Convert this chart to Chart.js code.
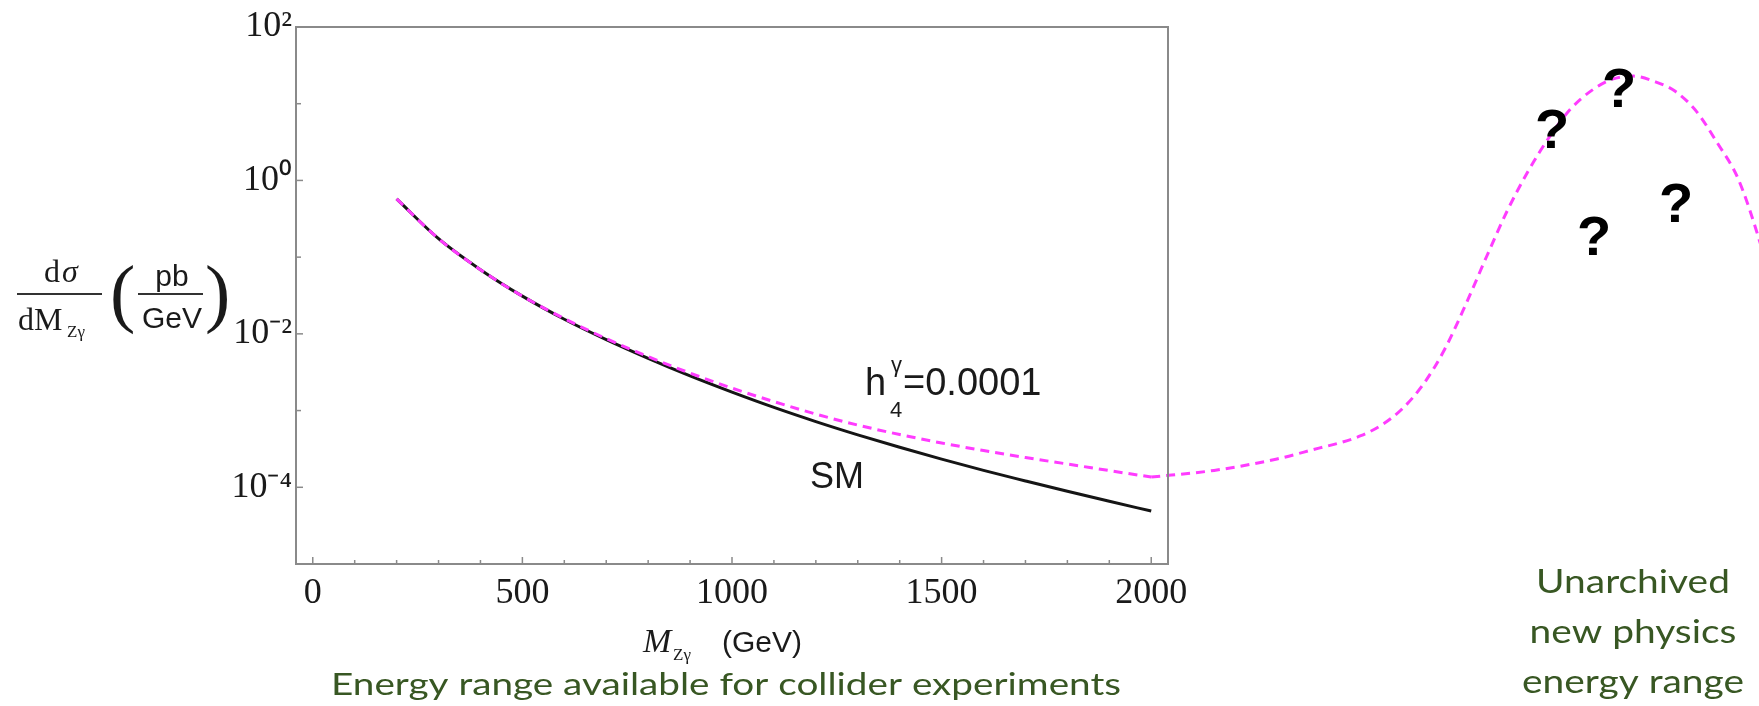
<!DOCTYPE html>
<html>
<head>
<meta charset="utf-8">
<script src="https://cdn.jsdelivr.net/npm/chart.js@4.4.1/dist/chart.umd.min.js"></script>
<style>
  html, body { margin: 0; padding: 0; background: #fff; }
  #wrap { position: relative; width: 1759px; height: 706px; }
</style>
</head>
<body>
<div id="wrap"><canvas id="chart" width="1759" height="706"></canvas></div>
<script>
// Invariant mass (GeV) and differential cross sections (pb/GeV)
const massGeV = [200, 300, 400, 500, 600, 700, 800, 900, 1000, 1100, 1200, 1300, 1400, 1500, 1600, 1700, 1800, 1900, 2000];
const smXsec = [0.575, 0.174, 0.0686, 0.0310, 0.0155, 0.0084, 0.00479, 0.00283, 0.00174, 0.00110, 7.19e-4, 4.83e-4, 3.32e-4, 2.33e-4, 1.66e-4, 1.21e-4, 8.87e-5, 6.58e-5, 4.90e-5];
const h4Xsec = [0.575, 0.174, 0.0686, 0.0310, 0.0158, 0.00866, 0.00505, 0.00308, 0.00196, 0.00131, 9.0e-4, 6.47e-4, 4.87e-4, 3.78e-4, 3.01e-4, 2.44e-4, 2.01e-4, 1.65e-4, 1.36e-4];

// Sketched continuation into the unexplored range (drawn past the frame)
const newPhysMass = [2000, 2150, 2300, 2400, 2450, 2500, 2550, 2600, 2650, 2700, 2750, 2800, 2850, 2900, 2950, 3000, 3050, 3100, 3150, 3200, 3250, 3300, 3350, 3400, 3450, 3490];
const newPhysXsec = [1.36e-4, 1.66e-4, 2.34e-4, 3.24e-4, 3.8e-4, 4.7e-4, 6.5e-4, 1.07e-3, 2.24e-3, 6.3e-3, 0.024, 0.102, 0.41, 1.35, 3.7, 8.5, 14.8, 20.9, 22.9, 19.5, 14.5, 8.0, 3.1, 1.05, 0.17, 0.028];

// Axis ticks
const xTickValues = [0, 100, 200, 300, 400, 500, 600, 700, 800, 900, 1000, 1100, 1200, 1300, 1400, 1500, 1600, 1700, 1800, 1900, 2000];
const xTickLabels = ['0', '500', '1000', '1500', '2000'];
const yTickExponents = [-5, -4, -3, -2, -1, 0, 1, 2];
const yTickLabels = ['10\u207B\u2074', '10\u207B\u00B2', '10\u2070', '10\u00B2'];

const SERIF = "'Liberation Serif', 'Times New Roman', serif";
const SANS = "'Liberation Sans', Arial, sans-serif";
const MAGENTA = '#ff3cff';
const GREEN = '#385723';

function toPoints(xs, ys) {
    return xs.map((x, i) => ({ x: x, y: ys[i] }));
}

// text squeezed/stretched horizontally around its centre
function stretchedText(ctx, text, cx, baseline, sx) {
    ctx.save();
    ctx.translate(cx, baseline);
    ctx.scale(sx, 1);
    ctx.textAlign = 'center';
    ctx.textBaseline = 'alphabetic';
    ctx.fillText(text, 0, 0);
    ctx.restore();
}

// Frame, inward tick marks and annotations
const decorPlugin = {
    id: 'decor',
    afterDraw(chart) {
        const ctx = chart.ctx;
        const area = chart.chartArea;
        const xs = chart.scales.x;
        const ys = chart.scales.y;
        ctx.save();

        // frame
        ctx.strokeStyle = '#8a8a8a';
        ctx.lineWidth = 2;
        ctx.strokeRect(area.left, area.top, area.right - area.left, area.bottom - area.top);

        // x ticks (pointing inward)
        ctx.lineWidth = 1.5;
        xTickValues.forEach(v => {
            const px = xs.getPixelForValue(v);
            const len = v % 500 === 0 ? 7 : 4;
            ctx.beginPath();
            ctx.moveTo(px, area.bottom);
            ctx.lineTo(px, area.bottom - len);
            ctx.stroke();
        });
        // y ticks
        yTickExponents.forEach(e => {
            const py = ys.getPixelForValue(Math.pow(10, e));
            const len = e % 2 === 0 ? 7 : 5;
            ctx.beginPath();
            ctx.moveTo(area.left, py);
            ctx.lineTo(area.left + len, py);
            ctx.stroke();
        });

        ctx.fillStyle = '#1a1a1a';
        ctx.strokeStyle = '#333';
        ctx.textBaseline = 'alphabetic';

        // y axis title: dσ/dM_Zγ (pb/GeV)
        ctx.textAlign = 'center';
        ctx.font = '32px ' + SERIF;
        ctx.fillText('d', 52, 282);
        ctx.font = 'italic 32px ' + SERIF;
        ctx.fillText('\u03C3', 70, 282);
        ctx.lineWidth = 2;
        ctx.beginPath(); ctx.moveTo(17, 294); ctx.lineTo(102, 294); ctx.stroke();
        ctx.textAlign = 'left';
        ctx.font = '32px ' + SERIF;
        ctx.fillText('dM', 18, 330);
        ctx.font = '17px ' + SERIF;
        ctx.fillText('Z\u03B3', 67, 337);
        ctx.font = '76px ' + SERIF;
        ctx.fillText('(', 110, 318);
        ctx.fillText(')', 205, 318);
        ctx.textAlign = 'center';
        ctx.font = '30px ' + SANS;
        ctx.fillText('pb', 172, 286);
        ctx.beginPath(); ctx.moveTo(138, 294); ctx.lineTo(203, 294); ctx.stroke();
        ctx.fillText('GeV', 172, 328);

        // x axis title: M_Zγ (GeV)
        ctx.textAlign = 'left';
        ctx.font = 'italic 34px ' + SERIF;
        ctx.fillText('M', 643, 652);
        ctx.font = '17px ' + SERIF;
        ctx.fillText('Z\u03B3', 673, 660);
        ctx.font = '30px ' + SANS;
        ctx.fillText('(GeV)', 722, 652);

        // curve labels
        ctx.font = '38px ' + SANS;
        ctx.fillText('h', 865, 395);
        ctx.fillText('=0.0001', 903, 395);
        ctx.font = '22px ' + SANS;
        ctx.fillText('\u03B3', 891, 372);
        ctx.fillText('4', 890, 417);
        ctx.font = '36px ' + SANS;
        ctx.fillText('SM', 810, 488);

        // question marks
        ctx.textAlign = 'center';
        ctx.textBaseline = 'middle';
        ctx.fillStyle = '#000';
        ctx.font = 'bold 56px ' + SANS;
        [[1619, 92], [1552, 133], [1676, 207], [1594, 240]].forEach(p => ctx.fillText('?', p[0], p[1]));

        // green captions
        ctx.fillStyle = GREEN;
        ctx.font = '31px Lato, ' + SANS;
        const bottomText = 'Energy range available for collider experiments';
        stretchedText(ctx, bottomText, 726, 695, 790 / ctx.measureText(bottomText).width);
        ctx.font = '32px Lato, ' + SANS;
        const sxRight = 222 / ctx.measureText('energy range').width;
        stretchedText(ctx, 'Unarchived', 1633, 593, sxRight);
        stretchedText(ctx, 'new physics', 1633, 643, sxRight);
        stretchedText(ctx, 'energy range', 1633, 693, sxRight);

        ctx.restore();
    }
};

new Chart(document.getElementById('chart'), {
    type: 'line',
    data: {
        datasets: [
            {
                label: 'h4 = 0.0001',
                data: toPoints(massGeV, h4Xsec),
                borderColor: MAGENTA,
                borderWidth: 3,
                borderDash: [9, 6],
                pointRadius: 0,
                cubicInterpolationMode: 'monotone'
            },
            {
                label: 'new physics',
                data: toPoints(newPhysMass, newPhysXsec),
                xAxisID: 'xNew',
                borderColor: MAGENTA,
                borderWidth: 3,
                borderDash: [9, 6],
                pointRadius: 0,
                cubicInterpolationMode: 'monotone',
                capBezierPoints: false,
                clip: false
            },
            {
                label: 'SM',
                data: toPoints(massGeV, smXsec),
                borderColor: '#151515',
                borderWidth: 3,
                pointRadius: 0,
                cubicInterpolationMode: 'monotone'
            }
        ]
    },
    options: {
        responsive: false,
        animation: false,
        devicePixelRatio: 1,
        layout: { padding: { left: 0, top: 27, right: 591, bottom: 0 } },
        plugins: {
            legend: { display: false },
            tooltip: { enabled: false }
        },
        scales: {
            x: {
                type: 'linear',
                min: -40,
                max: 2040,
                grid: { display: false, drawTicks: false },
                border: { display: false },
                afterBuildTicks: scale => { scale.ticks = xTickValues.map(v => ({ value: v })); },
                afterFit: scale => { scale.height = 142; },
                ticks: {
                    autoSkip: false,
                    maxRotation: 0,
                    padding: 8,
                    color: '#1a1a1a',
                    font: { family: SERIF, size: 36 },
                    callback: v => (v % 500 === 0 ? xTickLabels[v / 500] : '')
                }
            },
            // same mapping as x, but without user bounds so the sketch past 2000 GeV is not cut off
            xNew: {
                type: 'linear',
                display: false,
                bounds: 'data',
                afterDataLimits: scale => { scale.min = -40; scale.max = 2040; }
            },
            y: {
                type: 'logarithmic',
                min: 1e-5,
                max: 100,
                grid: { display: false, drawTicks: false },
                border: { display: false },
                afterBuildTicks: scale => { scale.ticks = yTickExponents.map(e => ({ value: Math.pow(10, e) })); },
                afterFit: scale => { scale.width = 296; },
                ticks: {
                    autoSkip: false,
                    padding: 4,
                    color: '#1a1a1a',
                    font: { family: SERIF, size: 36 },
                    callback: v => {
                        const e = Math.round(Math.log10(v));
                        return (e % 2 === 0 && e >= -4) ? yTickLabels[(e + 4) / 2] : '';
                    }
                }
            }
        }
    },
    plugins: [decorPlugin]
});
</script>
</body>
</html>
